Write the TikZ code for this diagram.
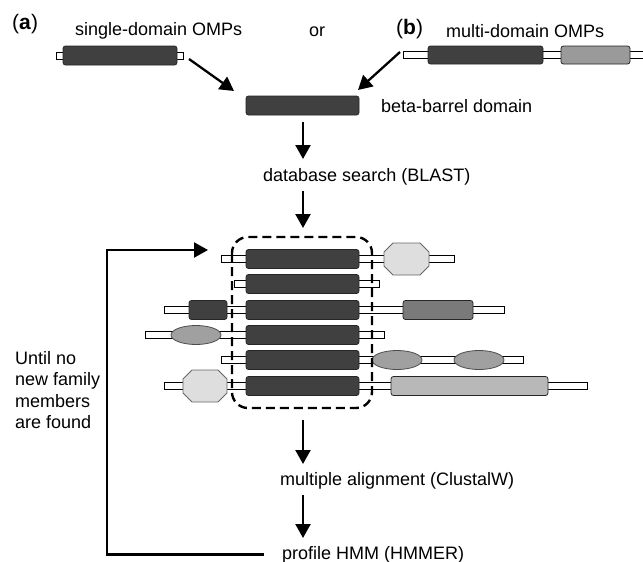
\documentclass[tikz,border=0pt]{standalone}
\usepackage{fontspec}
\setmainfont{Liberation Sans}
\usetikzlibrary{arrows.meta}
\definecolor{domc}{HTML}{404040}
\definecolor{octc}{HTML}{DEDEDE}
\definecolor{ellc}{HTML}{A0A0A0}
\definecolor{midc}{HTML}{7A7A7A}
\definecolor{lgtc}{HTML}{B8B8B8}
\definecolor{mgc}{HTML}{9A9A9A}
\tikzset{
  dom/.style={draw=black!85, line width=0.8pt, fill=domc, rounded corners=2.5pt},
  lnk/.style={draw=black, fill=white, line width=0.7pt},
  octa/.style={draw=black!60, line width=0.8pt, fill=octc},
  ell/.style={draw=black!70, line width=0.8pt, fill=ellc},
  txt/.style={inner sep=0pt, anchor=west, font=\fontsize{18}{21.5}\selectfont},
  lab/.style={inner sep=0pt, anchor=west, font=\fontsize{21}{24}\selectfont},
  flow/.style={line width=2.3pt, -{Triangle[length=14pt,width=15pt]}},
  loopl/.style={line width=2.2pt, -{Triangle[length=14pt,width=15pt]}},
  dbox/.style={line width=2.4pt, dash pattern=on 9pt off 5pt, rounded corners=16pt}
}
\newcommand{\octag}[4]{% x1 y1 x2 y2
  \path[octa] (#1+9,#2) -- (#3-9,#2) -- (#3,#2+9) -- (#3,#4-9) -- (#3-9,#4) -- (#1+9,#4) -- (#1,#4-9) -- (#1,#2+9) -- cycle;}
\begin{document}
\begin{tikzpicture}[x=1pt,y=-1pt]
\useasboundingbox (0,0) rectangle (643,562);

% labels at top
\node[lab] (la) at (12,24) {(\textbf{a})};
\node[txt] (tsingle) at (75,31) {single-domain OMPs};
\node[txt] (tor) at (309,32) {or};
\node[lab] (lb) at (396,29) {(\textbf{b})};
\node[txt] (tmulti) at (446,31) {multi-domain OMPs};

% single-domain protein
\path[lnk] (56,52) rectangle (183,59);
\path[dom] (63,46) rectangle (177,65);
% multi-domain protein
\path[lnk] (403,51.5) rectangle (645,58.5);
\path[dom] (428,46) rectangle (543,64);
\path[dom, fill=mgc] (561,46) rectangle (630,64);

% beta-barrel domain
\node[dom, minimum width=113pt, minimum height=19pt, inner sep=0pt] (bb) at (302.5,105.5) {};
\node[txt] (tbb) at (381,106) {beta-barrel domain};

\coordinate (a1s) at (189,59);
\coordinate (a1e) at (234,91);
\coordinate (a2s) at (400,52);
\coordinate (a2e) at (358,90);
\draw[flow] (a1s) -- (a1e);
\draw[flow] (a2s) -- (a2e);

\node[txt] (tdb) at (263,177) {database search (BLAST)};
\coordinate (a3s) at (303,122);
\coordinate (a3e) at (303,159);
\coordinate (a4s) at (303,191);
\coordinate (a4e) at (303,228);
\draw[flow] (a3s) -- (a3e);
\draw[flow] (a4s) -- (a4e);

% rows of proteins
% row 1
\path[lnk] (221,255.5) rectangle (454,262.5);
\octag{384}{243}{429}{275}
\path[dom] (246,249.5) rectangle (359,268.5);
% row 2
\path[lnk] (234,280.5) rectangle (379,287.5);
\path[dom] (246,274.5) rectangle (359,293.5);
% row 3
\path[lnk] (164,306.5) rectangle (504,313.5);
\path[dom] (189,300.5) rectangle (227,319.5);
\path[dom] (246,300.5) rectangle (359,319.5);
\path[dom, fill=midc] (403,300.5) rectangle (473,319.5);
% row 4
\path[lnk] (145,331.5) rectangle (384,338.5);
\path[ell] (196,335) ellipse [x radius=25, y radius=9.5];
\path[dom] (246,325.5) rectangle (359,344.5);
% row 5
\path[lnk] (221,356.5) rectangle (523,363.5);
\path[dom] (246,350.5) rectangle (359,369.5);
\path[ell] (397,360) ellipse [x radius=25, y radius=9.5];
\path[ell] (479,360) ellipse [x radius=25, y radius=9.5];
% row 6
\path[lnk] (164,382.5) rectangle (587,389.5);
\octag{183}{370}{227}{402}
\path[dom] (246,376.5) rectangle (359,395.5);
\path[dom, fill=lgtc] (391,376.5) rectangle (548,395.5);

% dashed selection box
\draw[dbox] (232,237) rectangle (372,408);

% lower flow
\coordinate (a5s) at (303,420);
\coordinate (a5e) at (303,464);
\draw[flow] (a5s) -- (a5e);
\node[txt] (tma) at (280,481) {multiple alignment (ClustalW)};
\coordinate (a6s) at (303,495);
\coordinate (a6e) at (303,538);
\draw[flow] (a6s) -- (a6e);
\node[txt] (thmm) at (282,555) {profile HMM (HMMER)};

% feedback loop
\coordinate (l0) at (264,554.5);
\coordinate (l1) at (107,554.5);
\coordinate (l2) at (107,250);
\coordinate (l3) at (208,250);
\draw[loopl] (l0) -- (l1) -- (l2) -- (l3);

\node[txt, anchor=north west, align=left] (tuntil) at (15,351)
  {Until no\\new family\\members\\are found};
\end{tikzpicture}
\end{document}
